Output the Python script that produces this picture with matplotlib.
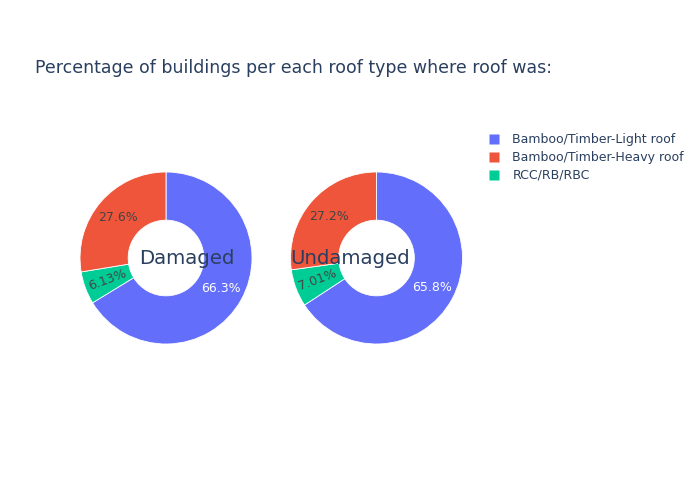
import matplotlib.pyplot as plt
from matplotlib.lines import Line2D

plt.rcParams['font.family'] = ['DejaVu Sans']

# datos (orden en el sentido de las agujas del reloj desde arriba)
roof_types = ['Bamboo/Timber-Light roof', 'RCC/RB/RBC', 'Bamboo/Timber-Heavy roof']
damaged = [66.3, 6.13, 27.6]
undamaged = [65.8, 7.01, 27.2]
pie_titles = ['Damaged', 'Undamaged']
legend_order = ['Bamboo/Timber-Light roof', 'Bamboo/Timber-Heavy roof', 'RCC/RB/RBC']

colores = {'Bamboo/Timber-Light roof': '#636efa',
           'Bamboo/Timber-Heavy roof': '#EF553B',
           'RCC/RB/RBC': '#00cc96'}
texto = '#2a3f5f'

W, H = 695, 494
fig = plt.figure(figsize=(W / 100, H / 100), dpi=100)

def px_axes(cx, cy, r):
    # ejes cuadrados en píxeles centrados en (cx, cy)
    return fig.add_axes([(cx - r) / W, (H - cy - r) / H, 2 * r / W, 2 * r / H])

centros = [(166, 258), (376.5, 258)]
radio = 86
hole = 0.44

for (cx, cy), vals in zip(centros, [damaged, undamaged]):
    ax = px_axes(cx, cy, radio)
    wedges, _, autotexts = ax.pie(vals, colors=[colores[t] for t in roof_types],
                                  startangle=90, counterclock=False, radius=1,
                                  autopct=lambda p: '%.3g%%' % p, pctdistance=0.73,
                                  wedgeprops=dict(width=1 - hole, edgecolor='white', linewidth=0.6),
                                  textprops=dict(fontsize=9))
    for w, at, t in zip(wedges, autotexts, roof_types):
        at.set_color('white' if t == 'Bamboo/Timber-Light roof' else '#444444')
        if t == 'RCC/RB/RBC':
            ang = (w.theta1 + w.theta2) / 2
            at.set_rotation(ang - 180)
    ax.set_xlim(-1, 1)
    ax.set_ylim(-1, 1)
    ax.set_aspect('equal')
    ax.axis('off')

# etiquetas centrales
fig.text(187 / W, 1 - 258 / H, pie_titles[0], fontsize=14.2, color=texto, ha='center', va='center')
fig.text(350 / W, 1 - 258 / H, pie_titles[1], fontsize=14.2, color=texto, ha='center', va='center')

fig.text(35 / W, 1 - 68 / H, 'Percentage of buildings per each roof type where roof was:',
         fontsize=12.55, color=texto, ha='left', va='center')

handles = [Line2D([], [], marker='s', linestyle='none', markersize=7.5,
                  markerfacecolor=colores[t], markeredgecolor='none') for t in legend_order]
fig.legend(handles, legend_order, loc='upper left', bbox_to_anchor=(481 / W, 1 - 128 / H),
           frameon=False, fontsize=9, labelcolor=texto, handletextpad=0.9,
           labelspacing=0.4, borderaxespad=0, handlelength=1.2)

fig.savefig('out.png', dpi=100)
